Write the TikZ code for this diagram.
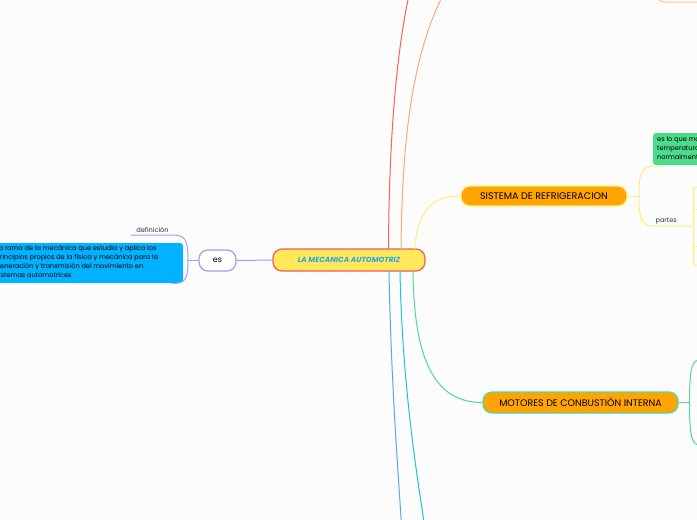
\documentclass[tikz,border=0pt]{standalone}
\usepackage{fontspec}
\setmainfont{Poppins}
\definecolor{bg}{HTML}{FCFCFC}
\definecolor{cred}{HTML}{F4645A}
\definecolor{corange}{HTML}{FFA97A}
\definecolor{cyellow}{HTML}{FFF07A}
\definecolor{cgreen}{HTML}{4DD9A0}
\definecolor{cblue}{HTML}{54A8F5}
\definecolor{cteal}{HTML}{1AC8C8}
\definecolor{clav}{HTML}{A79BF5}
\definecolor{cfillc}{HTML}{FFE85A}
\definecolor{cborderc}{HTML}{F25C5C}
\definecolor{ctextc}{HTML}{2AA7E0}
\definecolor{cnode}{HTML}{FFA400}
\definecolor{cgbox}{HTML}{4CDB8A}
\definecolor{cbbox}{HTML}{00B2FF}
\tikzset{
  conn/.style={line width=1pt},
  pill/.style={rounded corners=9pt, line width=1.2pt},
  small/.style={font=\fontsize{6.6pt}{9pt}\selectfont, text=black, align=left, inner sep=0pt, anchor=north west},
}
\begin{document}
\begin{tikzpicture}[x=1pt,y=-1pt]
\useasboundingbox (0,0) rectangle (697,520);
\fill[bg] (0,0) rectangle (697,520);
\clip (0,0) rectangle (697,520);

% central node
\node[pill, draw=cborderc, fill=cfillc, minimum width=152pt, minimum height=22pt, inner sep=0pt,
  font=\fontsize{7.4pt}{8pt}\selectfont\bfseries\itshape, text=ctextc] (c) at (349,260) {LA MECANICA AUTOMOTRIZ};

% off-canvas coordinates
\coordinate (rtop) at (409,-5);
\coordinate (otop) at (443,-5);
\coordinate (bbot) at (401.5,525);
\coordinate (tbot) at (424.5,525);
\coordinate (c-r) at (388.5,249);
\coordinate (c-o) at (401,249);
\coordinate (c-y) at (414.5,249);
\coordinate (c-b) at (389,271);
\coordinate (c-t) at (400,271);
\coordinate (c-g) at (413,271);

\draw[conn, cred] (c-r) .. controls (389,150) and (395,60) .. (rtop);
\draw[conn, corange] (c-o) .. controls (402,150) and (410,60) .. (otop);
\draw[conn, cblue] (c-b) .. controls (391,380) and (398,470) .. (bbot);
\draw[conn, cteal] (c-t) .. controls (402,380) and (416,470) .. (tbot);

% top orange box
\draw[line width=1pt, draw=corange!70, rounded corners=6pt] (658,-30) rectangle (720,2);

% SISTEMA
\node[pill, draw=cyellow, fill=cnode, minimum width=166pt, minimum height=20pt, inner sep=0pt,
  font=\fontsize{9.6pt}{10pt}\selectfont, text=black] (s) at (544,196) {SISTEMA DE REFRIGERACION};
\draw[conn, cyellow] (c-y) .. controls (418,210) and (432,196) .. (s.west);

% MOTORES
\node[pill, draw=cgreen, fill=cnode, minimum width=195pt, minimum height=21pt, inner sep=0pt,
  font=\fontsize{9.5pt}{10pt}\selectfont, text=black] (m) at (580.5,402.5) {MOTORES DE CONBUSTIÒN INTERNA};
\draw[conn, cgreen] (c-g) .. controls (414,370) and (440,402.5) .. (m.west);

% green box
\fill[cgbox, rounded corners=3pt] (653,133) rectangle (720,165);
\node[small] (gt) at (657,136.5) {es lo que mantiene la\\temperatura del motor\\normalmente};

% bracket from SISTEMA
\coordinate (sb) at (639,196);
\draw[conn, cyellow] (s.east) -- (sb);
\draw[conn, cyellow] (sb) .. controls (639,170) and (642,166) .. (656,166) -- (662,166);
\draw[conn, cyellow] (sb) .. controls (639,222) and (642,226) .. (656,226) -- (693,226);
\node[font=\fontsize{6.5pt}{7pt}\selectfont, text=black!80, anchor=base west, inner sep=0pt] (pt) at (655.5,222) {partes};

% partes bracket
\draw[conn, cyellow, rounded corners=3pt] (698,187) -- (693.5,187) -- (693.5,265) -- (698,265);
\draw[conn, cyellow] (693.5,209) -- (698,209);
\draw[conn, cyellow] (693.5,246) -- (698,246);

% MOTORES bracket
\coordinate (mb) at (689.5,402.5);
\draw[conn, cgreen] (m.east) -- (mb);
\draw[conn, cgreen] (mb) .. controls (689.5,368) and (692,361) .. (699,360);
\draw[conn, cgreen] (mb) .. controls (689.5,437) and (692,444) .. (699,445);

% es node
\node[pill, draw=clav, fill=white, minimum width=37pt, minimum height=21pt, inner sep=0pt,
  font=\fontsize{8pt}{9pt}\selectfont, text=black] (es) at (217.5,260.5) {es};
\draw[conn, clav] (c.west) -- (es.east);

% blue box
\fill[cbbox, rounded corners=3pt] (-10,243) rectangle (183,283);
\node[small] (bt) at (-4.5,245.3) {La rama de la mecánica que estudia y aplica los\\principios propios de la física y mecánica para la\\generación y transmisión del movimiento en\\sistemas automotrices};

% es bracket
\coordinate (eb) at (188,260.5);
\draw[conn, clav] (es.west) -- (eb);
\draw[conn, clav] (eb) .. controls (188,239) and (185,235) .. (172,235) -- (131,235);
\draw[conn, clav] (eb) .. controls (188,280) and (185,283.5) .. (172,283.5);
\node[font=\fontsize{6.6pt}{7pt}\selectfont, text=black!80, anchor=base, inner sep=0pt] (def) at (152.5,232.5) {definiciòn};
\end{tikzpicture}
\end{document}
